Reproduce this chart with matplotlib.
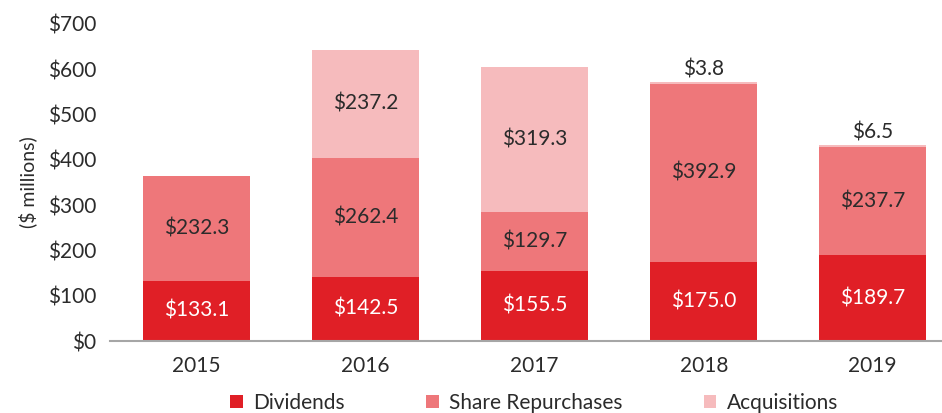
import numpy as np
import matplotlib.pyplot as plt

years = ['2015', '2016', '2017', '2018', '2019']
dividends = [133.1, 142.5, 155.5, 175.0, 189.7]
repurchases = [232.3, 262.4, 129.7, 392.9, 237.7]
acquisitions = [0.0, 237.2, 319.3, 3.8, 6.5]

c_div = '#E01F26'
c_rep = '#EE777A'
c_acq = '#F6BBBD'

plt.rcParams['font.family'] = ['Lato', 'DejaVu Sans']

fig = plt.figure(figsize=(9.42, 4.13), dpi=100)
ax = fig.add_axes([0.117, 0.174, 0.883, 0.768])

x = np.arange(len(years))
w = 0.633
div = np.array(dividends)
rep = np.array(repurchases)
acq = np.array(acquisitions)

ax.bar(x, div, w, color=c_div, label='Dividends')
ax.bar(x, rep, w, bottom=div, color=c_rep, label='Share Repurchases')
ax.bar(x, acq, w, bottom=div + rep, color=c_acq, label='Acquisitions')

for i in range(len(years)):
    ax.text(x[i], div[i] / 2, f'${div[i]:.1f}', ha='center', va='center',
            color='white', fontsize=15)
    ax.text(x[i], div[i] + rep[i] / 2, f'${rep[i]:.1f}', ha='center', va='center',
            color='#2b2b2b', fontsize=15)
    if acq[i] > 50:
        ax.text(x[i], div[i] + rep[i] + acq[i] / 2, f'${acq[i]:.1f}', ha='center',
                va='center', color='#2b2b2b', fontsize=15)
    elif acq[i] > 0:
        ax.text(x[i], div[i] + rep[i] + acq[i] + 5, f'${acq[i]:.1f}', ha='center',
                va='bottom', color='#2b2b2b', fontsize=15)

ax.set_xlim(-0.512, 4.41)
ax.set_ylim(0, 700)
ax.set_yticks(np.arange(0, 701, 100))
ax.set_yticklabels([f'${v}' for v in range(0, 701, 100)])
ax.set_xticks(x)
ax.set_xticklabels(years)
ax.tick_params(axis='both', length=0, labelsize=15, colors='#2b2b2b')
ax.tick_params(axis='x', pad=11)
ax.tick_params(axis='y', pad=10)
ax.set_ylabel('($ millions)', fontsize=14, color='#2b2b2b', labelpad=8)

for s in ['top', 'right', 'left']:
    ax.spines[s].set_visible(False)
ax.spines['bottom'].set_color('#A6A6A6')
ax.spines['bottom'].set_linewidth(1.5)

fig.legend(loc='lower center', bbox_to_anchor=(0.567, -0.045), ncol=3, frameon=False,
           fontsize=15, handlelength=0.6, handleheight=0.6, handletextpad=0.5,
           columnspacing=3.9, labelcolor='#2b2b2b')

fig.savefig('out.png', dpi=100)
